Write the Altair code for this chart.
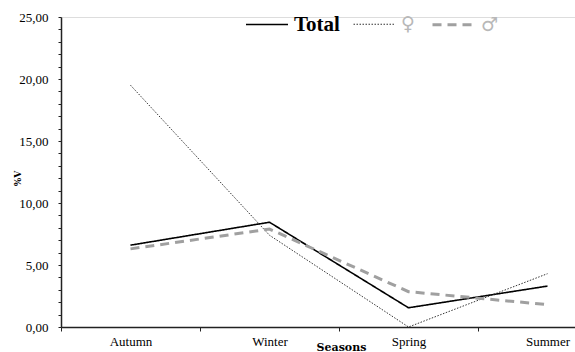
import altair as alt
import pandas as pd

seasons = ["Autumn", "Winter", "Spring", "Summer"]
series_names = ["Total", "♀", "♂"]
total = [6.6, 8.45, 1.55, 3.3]
female = [19.5, 7.4, 0.0, 4.3]
male = [6.3, 7.9, 2.85, 1.8]

rows = []
for name, vals in zip(series_names, [total, female, male]):
    for s, v in zip(seasons, vals):
        rows.append({"Season": s, "Series": name, "Value": v})
df = pd.DataFrame(rows)

serif = "Liberation Serif"

leg = alt.Legend(title=None, orient="none", direction="horizontal",
                 legendX=184, legendY=-15, symbolType="stroke",
                 symbolSize=1764, labelOffset=5, columnPadding=11,
                 labelFont={"expr": "datum.label == 'Total' ? 'Liberation Serif' : 'DejaVu Sans'"},
                 labelFontSize={"expr": "datum.label == 'Total' ? 21 : 19"},
                 labelFontWeight={"expr": "datum.label == 'Total' ? 'bold' : 'normal'"},
                 labelColor={"expr": "datum.label == 'Total' ? 'black' : '#b8b8b8'"})

chart = alt.Chart(df).mark_line(clip=False).encode(
    x=alt.X("Season:N", sort=seasons,
            scale=alt.Scale(type="band", range=[0, 556], paddingInner=0, paddingOuter=0),
            axis=alt.Axis(title="Seasons", labelAngle=0, tickBand="extent", tickSize=4,
                          labelPadding=4, labelFont=serif, labelFontSize=13, labelColor="black",
                          titleFont="DejaVu Serif", titleFontSize=11, titleFontWeight="bold",
                          titleColor="black", titleX=280, titleY=20, titleBaseline="middle",
                          domainColor="#222", domainWidth=1.5, tickColor="#222", grid=False)),
    y=alt.Y("Value:Q", scale=alt.Scale(domain=[0, 25], nice=False),
            axis=alt.Axis(title="%V", values=list(range(26)),
                          labelExpr="datum.value % 5 == 0 ? replace(format(datum.value, '.2f'), '.', ',') : ''",
                          tickSize=3, labelPadding=10, labelFont=serif, labelFontSize=13,
                          labelColor="black", titleFont="DejaVu Serif", titleFontSize=9,
                          titleFontWeight="bold", titleColor="black", titleX=-39, titleY=161,
                          domainColor="#222", domainWidth=1.5, tickColor="#222", grid=False)),
    color=alt.Color("Series:N", sort=series_names,
                    scale=alt.Scale(domain=series_names, range=["#000000", "#333333", "#a0a0a0"]),
                    legend=leg),
    strokeDash=alt.StrokeDash("Series:N", sort=series_names,
                              scale=alt.Scale(domain=series_names, range=[[1, 0], [1.5, 1.5], [9, 6]]),
                              legend=leg),
    strokeWidth=alt.StrokeWidth("Series:O", sort=series_names,
                                scale=alt.Scale(type="ordinal", domain=series_names, range=[1.6, 1, 3]),
                                legend=leg),
).properties(
    width=514, height=310,
    autosize=alt.AutoSizeParams(type="none"),
    padding={"left": 61, "top": 17, "right": 0, "bottom": 25},
).configure_view(stroke=None).configure(background="white")

chart.save("out.html", embed_options={"renderer": "svg", "actions": False})
